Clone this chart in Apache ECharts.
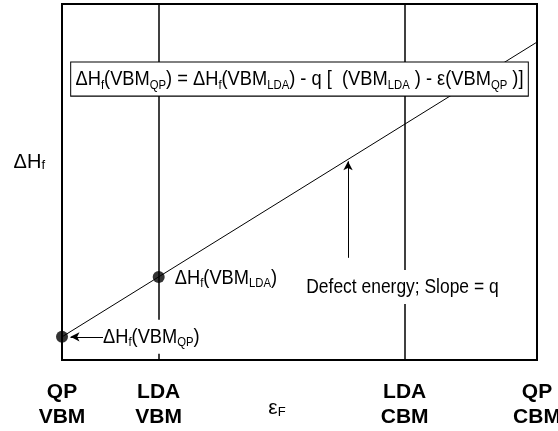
<!DOCTYPE html>
<html><head><meta charset="utf-8">
<script src="https://cdn.jsdelivr.net/npm/echarts@6/dist/echarts.min.js"></script>
<style>html,body{margin:0;padding:0;background:#fff}#c{width:558px;height:431px}</style>
</head><body><div id="c"></div>
<script>
// ---- data ----
const xTicks = [0, 0.57, 2.02, 2.8];
const xTickLabels = ['QP\nVBM', 'LDA\nVBM', 'LDA\nCBM', 'QP\nCBM'];
const bandEdges = [0.57, 2.02];            // LDA VBM, LDA CBM vertical lines
const defectLine = [[0, 0.65], [2.8, 8.93]];
const refPoints = [[0, 0.65], [0.57, 2.33]];
const yMax = 10;
const annoTexts = [
  'ΔH{s|f}(VBM{s|QP}) = ΔH{s|f}(VBM{s|LDA}) - q [  (VBM{s|LDA} ) - ε(VBM{s|QP} )]',
  'ΔH{s|f}(VBM{s|LDA})',
  'ΔH{s|f}(VBM{s|QP})',
  'Defect energy; Slope = q'
];
const annoAnchors = [[1.4, 7.89], [0.665, 2.3], [0.242, 0.65], [1.44, 2.05]];
const arrowQP = [[0.242, 0.65], [0.05, 0.65]];
const arrowSlope = [[1.686, 2.87], [1.686, 5.58]];

const SANS = "'Liberation Sans',Arial,sans-serif";
const richSub = { s: { fontFamily: SANS, fontSize: 13, lineHeight: 14, verticalAlign: 'bottom', fill: '#000', color: '#000' } };

const chart = echarts.init(document.getElementById('c'), null, { renderer: 'canvas' });

chart.setOption({
  animation: false,
  grid: { left: 62, right: 21, top: 4, bottom: 71, show: true, borderColor: '#000', borderWidth: 2, outerBoundsMode: 'none' },
  xAxis: {
    type: 'value', min: 0, max: xTicks[xTicks.length - 1],
    axisLine: { show: false }, axisTick: { show: false }, splitLine: { show: false },
    axisLabel: {
      customValues: xTicks, showMinLabel: true, showMaxLabel: true,
      formatter: v => { const i = xTicks.indexOf(v); return i >= 0 ? xTickLabels[i] : ''; },
      fontFamily: SANS, fontWeight: 'bold', fontSize: 21,
      lineHeight: 25, color: '#000', margin: 20
    },
    name: 'ε{s|F}', nameLocation: 'middle', nameGap: 38, nameMoveOverlap: false,
    nameTextStyle: { fontFamily: SANS, fontSize: 21, color: '#000',
      padding: [0, 45, 0, 0], rich: richSub }
  },
  yAxis: {
    type: 'value', min: 0, max: yMax,
    axisLine: { show: false }, axisTick: { show: false }, splitLine: { show: false }, axisLabel: { show: false },
    name: 'ΔH{s|f}', nameLocation: 'middle', nameRotate: 0, nameGap: 17, nameMoveOverlap: false,
    nameTextStyle: { fontFamily: SANS, fontSize: 20, color: '#000',
      padding: [0, 0, 40, 0], align: 'right', rich: richSub }
  },
  series: [
    {
      type: 'line', data: defectLine, symbol: 'none', z: 2,
      lineStyle: { color: '#000', width: 1 },
      markLine: {
        silent: true, symbol: 'none', label: { show: false },
        lineStyle: { color: '#000', width: 1.5, type: 'solid' },
        data: bandEdges.map(v => ({ xAxis: v }))
      }
    },
    {
      type: 'scatter', data: refPoints, symbolSize: 12, clip: false, z: 4,
      itemStyle: { color: '#000' },
      markLine: {
        silent: true, symbol: ['none', 'arrow'], symbolSize: [7, 9], label: { show: false },
        lineStyle: { color: '#000', width: 1, type: 'solid' },
        data: [
          [{ coord: arrowQP[0] }, { coord: arrowQP[1] }],
          [{ coord: arrowSlope[0] }, { coord: arrowSlope[1] }]
        ]
      }
    }
  ]
});

// annotations: text placed at data coordinates through the grid's scales, condensed horizontally
const scales = [0.87, 0.87, 0.87, 0.83];
const backed = [true, false, true, true];
const graphics = annoTexts.map((t, i) => {
  const p = chart.convertToPixel({ gridIndex: 0 }, annoAnchors[i]);
  const boxed = i === 0;
  return {
    type: 'text', x: p[0], y: p[1], scaleX: scales[i], scaleY: 1, z: 100, silent: true,
    style: {
      text: t, rich: richSub, font: '21px ' + SANS, fill: '#000', lineHeight: 24,
      align: boxed ? 'center' : 'left', verticalAlign: 'middle',
      backgroundColor: backed[i] ? '#fff' : null,
      borderColor: boxed ? '#000' : null, borderWidth: boxed ? 1 / scales[i] : 0,
      padding: boxed ? [5, 5, 4, 5] : [5, 0, 5, 0]
    }
  };
});
chart.setOption({ graphic: graphics });
</script></body></html>
